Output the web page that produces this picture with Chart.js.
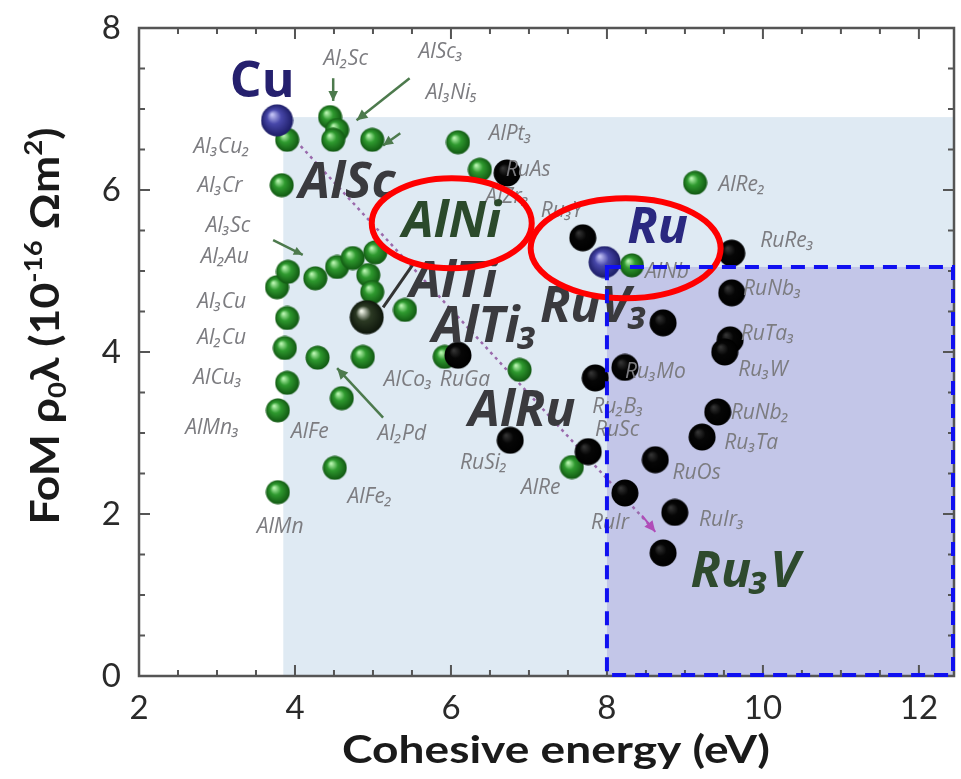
<!DOCTYPE html>
<html>
<head>
<meta charset="utf-8">
<script src="https://cdn.jsdelivr.net/npm/chart.js@4.4.1/dist/chart.umd.min.js"></script>
<style>
  html, body { margin: 0; padding: 0; background: #fff; }
  #wrap { width: 961px; height: 779px; }
</style>
</head>
<body>
<div id="wrap"><canvas id="chart" width="961" height="779"></canvas></div>
<script>
// FoM rho0*lambda vs cohesive energy for Al and Ru intermetallics

// Al compounds (green spheres)
const alX = [3.90, 4.45, 4.54, 4.49, 4.99, 3.83, 6.09, 6.37, 9.13, 8.32,
             3.77, 3.91, 4.26, 4.54, 4.74, 5.03, 4.94, 4.99, 5.41, 3.90,
             3.87, 4.29, 4.87, 3.90, 3.78, 4.60, 4.51, 3.78, 5.92, 6.88, 7.55];
const alY = [6.62, 6.90, 6.74, 6.62, 6.62, 6.06, 6.59, 6.25, 6.09, 5.07,
             4.80, 4.99, 4.91, 5.05, 5.16, 5.23, 4.95, 4.74, 4.52, 4.42,
             4.05, 3.93, 3.94, 3.62, 3.28, 3.43, 2.57, 2.27, 3.94, 3.78, 2.58];

// Ru compounds (black spheres)
const ruX = [6.72, 7.69, 9.60, 9.60, 8.72, 9.58, 9.51, 9.42, 9.22,
             8.62, 8.87, 8.72, 8.23, 7.76, 7.85, 8.23, 6.76, 6.09];
const ruY = [6.21, 5.41, 5.22, 4.73, 4.36, 4.15, 4.00, 3.26, 2.95,
             2.67, 2.02, 1.52, 2.26, 2.77, 3.68, 3.81, 2.91, 3.96];

// pure metals (blue spheres)
const elemNames = ["Cu", "Ru"];
const elemX = [3.77, 7.97];
const elemY = [6.86, 5.11];

// AlTi (dark sphere)
const altiX = [4.92];
const altiY = [4.43];

const xTickValues = [2, 4, 6, 8, 10, 12];
const yTickValues = [0, 2, 4, 6, 8];

// compound labels [text, x, y]
const smallLabels = [
  ["Al₂Sc", 4.65, 7.62], ["AlSc₃", 5.87, 7.70], ["Al₃Ni₅", 6.01, 7.20],
  ["Al₃Cu₂", 3.06, 6.53], ["Al₃Cr", 3.04, 6.05], ["Al₃Sc", 3.14, 5.56],
  ["Al₂Au", 3.10, 5.17], ["Al₃Cu", 3.06, 4.62], ["Al₂Cu", 3.06, 4.17],
  ["AlCu₃", 3.01, 3.68], ["AlMn₃", 2.94, 3.06], ["AlFe", 4.19, 3.01],
  ["Al₂Pd", 5.37, 2.99], ["AlFe₂", 4.96, 2.21], ["AlMn", 3.81, 1.84],
  ["AlCo₃", 5.45, 3.65], ["RuGa", 6.18, 3.65], ["AlPt₃", 6.76, 6.69],
  ["RuAs", 6.99, 6.25], ["AlZr₃", 6.72, 5.91], ["Ru₃Y", 7.42, 5.74],
  ["AlRe₂", 9.73, 6.06], ["RuRe₃", 10.31, 5.37], ["AlNb", 8.77, 4.99],
  ["RuNb₃", 10.12, 4.78], ["RuTa₃", 10.06, 4.22], ["Ru₃W", 10.0, 3.78],
  ["Ru₃Mo", 8.62, 3.75], ["Ru₂B₃", 8.14, 3.32], ["RuNb₂", 9.96, 3.25],
  ["RuSc", 8.13, 3.04], ["Ru₃Ta", 9.85, 2.88], ["RuSi₂", 6.42, 2.63],
  ["AlRe", 7.15, 2.32], ["RuOs", 9.15, 2.51], ["RuIr", 8.04, 1.89],
  ["RuIr₃", 9.47, 1.93]
];

// highlighted labels [text, x, y, colour, style]
const bigLabels = [
  ["Cu", 3.58, 7.33, "#25206e", "bold"],
  ["AlSc", 4.67, 6.08, "#3a3a3e", "italic bold"],
  ["AlNi", 6.01, 5.60, "#2b4a2b", "italic bold"],
  ["Ru", 8.65, 5.52, "#2a2880", "italic bold"],
  ["AlTi", 6.03, 4.85, "#3a3a3e", "italic bold"],
  ["AlTi₃", 6.44, 4.30, "#3a3a3e", "italic bold"],
  ["RuV₃", 7.84, 4.55, "#3a3a3e", "italic bold"],
  ["AlRu", 6.91, 3.26, "#3a3a3e", "italic bold"],
  ["Ru₃V", 9.77, 1.27, "#2e4a2e", "italic bold"]
];

function makeSphere(d, light, base, dark) {
  const c = document.createElement("canvas");
  c.width = d;
  c.height = d;
  const g = c.getContext("2d");
  const r = d / 2;
  const grad = g.createRadialGradient(r * 0.7, r * 0.65, r * 0.05, r, r, r);
  grad.addColorStop(0, light);
  grad.addColorStop(0.4, base);
  grad.addColorStop(1, dark);
  g.fillStyle = grad;
  g.beginPath();
  g.arc(r, r, r - 0.5, 0, Math.PI * 2);
  g.fill();
  return c;
}

const greenBall = makeSphere(25, "#b8f5b0", "#2f9a2f", "#0f5410");
const blackBall = makeSphere(28, "#333333", "#060606", "#000000");
const blueBall = makeSphere(33, "#c0c0f4", "#4848aa", "#1a1a62");
const darkBall = makeSphere(35, "#eef2e6", "#2c3a24", "#0c140a");

function toPoints(xs, ys) {
  return xs.map((x, i) => ({ x: x, y: ys[i] }));
}

function arrow(ctx, x1, y1, x2, y2, color, width, head) {
  ctx.strokeStyle = color;
  ctx.fillStyle = color;
  ctx.lineWidth = width;
  ctx.beginPath();
  ctx.moveTo(x1, y1);
  ctx.lineTo(x2, y2);
  ctx.stroke();
  if (head) {
    const a = Math.atan2(y2 - y1, x2 - x1);
    ctx.beginPath();
    ctx.moveTo(x2, y2);
    ctx.lineTo(x2 - head * Math.cos(a - 0.45), y2 - head * Math.sin(a - 0.45));
    ctx.lineTo(x2 - head * Math.cos(a + 0.45), y2 - head * Math.sin(a + 0.45));
    ctx.closePath();
    ctx.fill();
  }
}

// draws text pieces (normal / sub / sup) centred at 0,0, stretched to a given length
function richText(ctx, parts, size, family, length) {
  const widths = parts.map(p => {
    ctx.font = "bold " + (p[1] ? size * 0.62 : size) + "px " + family;
    return ctx.measureText(p[0]).width;
  });
  const total = widths.reduce((s, w) => s + w, 0);
  const k = length / total;
  ctx.save();
  ctx.scale(k, 1);
  let x = -total / 2;
  ctx.textAlign = "left";
  ctx.textBaseline = "alphabetic";
  parts.forEach((p, i) => {
    ctx.font = "bold " + (p[1] ? size * 0.62 : size) + "px " + family;
    const dy = p[1] === "sub" ? size * 0.18 : p[1] === "sup" ? -size * 0.42 : 0;
    ctx.fillText(p[0], x, size * 0.35 + dy);
    x += widths[i];
  });
  ctx.restore();
}

const decorPlugin = {
  id: "decor",
  beforeDatasetsDraw(chart) {
    const ctx = chart.ctx;
    const xs = chart.scales.x, ys = chart.scales.y;
    const a = chart.chartArea;
    const X = v => xs.getPixelForValue(v);
    const Y = v => ys.getPixelForValue(v);
    ctx.save();

    // shaded regions
    ctx.fillStyle = "#dfeaf3";
    ctx.fillRect(X(3.85), Y(6.9), a.right - X(3.85), a.bottom - Y(6.9));
    ctx.fillStyle = "#c3c6e8";
    ctx.fillRect(X(8), Y(5.05), a.right - X(8), a.bottom - Y(5.05));

    // frame and inward ticks
    ctx.strokeStyle = "#555";
    ctx.lineWidth = 2;
    for (let v = 2; v <= 12.45; v += 0.5) {
      const len = v % 2 === 0 ? 11 : 6;
      const p = X(v);
      ctx.beginPath();
      ctx.moveTo(p, a.bottom); ctx.lineTo(p, a.bottom - len);
      ctx.moveTo(p, a.top); ctx.lineTo(p, a.top + len);
      ctx.stroke();
    }
    for (let v = 0; v <= 8; v += 0.5) {
      const len = v % 2 === 0 ? 11 : 6;
      const p = Y(v);
      ctx.beginPath();
      ctx.moveTo(a.left, p); ctx.lineTo(a.left + len, p);
      ctx.moveTo(a.right, p); ctx.lineTo(a.right - len, p);
      ctx.stroke();
    }
    ctx.lineWidth = 2.5;
    ctx.strokeRect(a.left, a.top, a.right - a.left, a.bottom - a.top);

    // dotted trend line Cu -> Ru3V
    ctx.setLineDash([3, 4]);
    arrow(ctx, X(3.77), Y(6.86), X(8.55), Y(1.86), "#9a6aac", 2.5, 0);
    ctx.setLineDash([]);
    arrow(ctx, X(8.45), Y(1.98), X(8.62), Y(1.78), "#b04cb8", 2, 12);

    // green pointer arrows
    const g = "#4d7a4d";
    arrow(ctx, X(4.49), Y(7.38), X(4.49), Y(7.10), g, 2.5, 11);
    arrow(ctx, X(5.47), Y(7.38), X(4.79), Y(6.86), g, 2.5, 12);
    arrow(ctx, X(5.35), Y(6.70), X(5.13), Y(6.55), g, 2.5, 11);
    arrow(ctx, X(3.72), Y(5.38), X(4.10), Y(5.20), g, 2.5, 10);
    arrow(ctx, X(5.13), Y(3.19), X(4.54), Y(3.80), g, 2.5, 12);
    ctx.restore();
  },
  afterDatasetsDraw(chart) {
    const ctx = chart.ctx;
    const xs = chart.scales.x, ys = chart.scales.y;
    const a = chart.chartArea;
    const X = v => xs.getPixelForValue(v);
    const Y = v => ys.getPixelForValue(v);
    ctx.save();

    // AlTi pointer
    arrow(ctx, X(5.54), Y(5.12), X(5.13), Y(4.55), "#333", 3, 0);

    ctx.textAlign = "center";
    ctx.textBaseline = "middle";
    ctx.fillStyle = "#7c7c80";
    ctx.font = "italic 21px 'Open Sans'";
    smallLabels.forEach(l => ctx.fillText(l[0], X(l[1]), Y(l[2])));

    bigLabels.forEach(l => {
      ctx.fillStyle = l[3];
      ctx.font = l[4] + " 50px 'Open Sans'";
      ctx.fillText(l[0], X(l[1]), Y(l[2]));
    });

    // red ellipses
    ctx.strokeStyle = "#ff0000";
    ctx.lineWidth = 6;
    ctx.beginPath();
    ctx.ellipse(X(6.01), Y(5.59), 80, 45, 0, 0, Math.PI * 2);
    ctx.stroke();
    ctx.beginPath();
    ctx.ellipse(X(8.24), Y(5.28), 95, 50, 0, 0, Math.PI * 2);
    ctx.stroke();

    // blue dashed box
    ctx.strokeStyle = "#1010f0";
    ctx.lineWidth = 4;
    ctx.setLineDash([14, 9]);
    ctx.strokeRect(X(8), Y(5.05), a.right - X(8) - 1, a.bottom - Y(5.05) - 1);
    ctx.setLineDash([]);

    // axis titles
    ctx.fillStyle = "#1a1a1a";
    ctx.save();
    ctx.translate(556, 750);
    richText(ctx, [["Cohesive energy (eV)"]], 38, "Lato", 428);
    ctx.restore();
    ctx.translate(45, 326);
    ctx.rotate(-Math.PI / 2);
    richText(ctx, [["FoM ρ"], ["0", "sub"], ["λ (10"], ["-16", "sup"], [" Ωm"], ["2", "sup"], [")"]],
             40, "Lato", 397);
    ctx.restore();
  }
};

new Chart(document.getElementById("chart"), {
  type: "scatter",
  data: {
    datasets: [
      { label: "Elements", data: toPoints(elemX, elemY), pointStyle: blueBall, pointRadius: 16 },
      { label: "AlTi", data: toPoints(altiX, altiY), pointStyle: darkBall, pointRadius: 17 },
      { label: "Ru compounds", data: toPoints(ruX, ruY), pointStyle: blackBall, pointRadius: 14 },
      { label: "Al compounds", data: toPoints(alX, alY), pointStyle: greenBall, pointRadius: 12 }
    ]
  },
  options: {
    responsive: false,
    animation: false,
    layout: { autoPadding: false, padding: { top: 28, right: 7, left: 0, bottom: 0 } },
    plugins: { legend: { display: false }, tooltip: { enabled: false } },
    scales: {
      x: {
        type: "linear",
        min: 2,
        max: 12.45,
        afterFit(s) { s.height = 103; s.paddingLeft = 0; s.paddingRight = 0; },
        afterBuildTicks(s) { s.ticks = xTickValues.map(v => ({ value: v })); },
        grid: { display: false },
        border: { display: false },
        ticks: { padding: 5, color: "#2a2a2a", font: { family: "Lato", size: 33 } }
      },
      y: {
        min: 0,
        max: 8,
        afterFit(s) { s.width = 139; s.paddingTop = 0; s.paddingBottom = 0; },
        afterBuildTicks(s) { s.ticks = yTickValues.map(v => ({ value: v })); },
        grid: { display: false },
        border: { display: false },
        ticks: { padding: 10, color: "#2a2a2a", font: { family: "Lato", size: 33 } }
      }
    }
  },
  plugins: [decorPlugin]
});
</script>
</body>
</html>
